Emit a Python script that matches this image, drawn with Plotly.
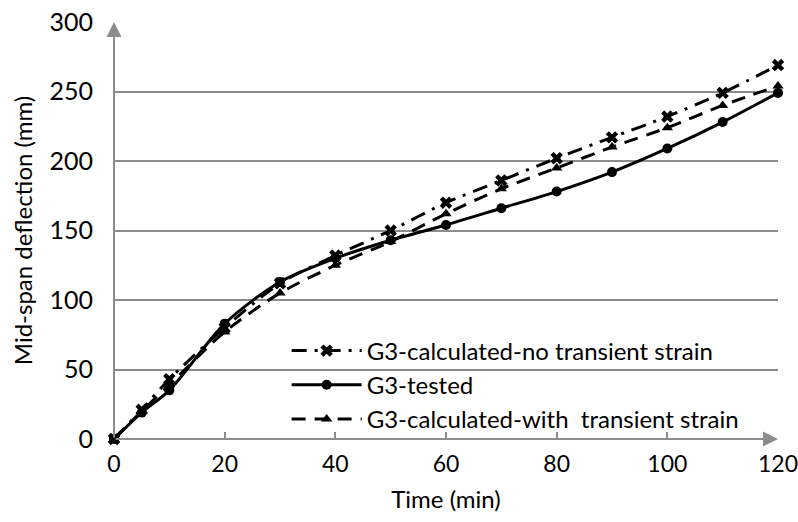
import plotly.graph_objects as go

time_min = [0, 5, 10, 20, 30, 40, 50, 60, 70, 80, 90, 100, 110, 120]
no_transient = [0, 21, 43, 80, 112, 132, 150, 170, 186, 202, 217, 232, 249, 269]
tested = [0, 19, 35, 83, 113, 130, 143, 154, 166, 178, 192, 209, 228, 249]
with_transient = [0, 20, 39, 77, 105, 125, 142, 162, 180, 195, 210, 224, 240, 254]

names = ["G3-calculated-no transient strain", "G3-tested",
         "G3-calculated-with\u00a0 transient strain"]
x_ticks = [0, 20, 40, 60, 80, 100, 120]
y_ticks = [0, 50, 100, 150, 200, 250, 300]

FONT = "Lato, 'Open Sans', sans-serif"
GRID = "#8c8c8c"

fig = go.Figure()
fig.add_trace(go.Scatter(
    x=time_min, y=no_transient, name=names[0], mode="lines+markers",
    line=dict(color="black", width=3, dash="15px,8px,3px,8px", shape="spline", smoothing=0.8),
    marker=dict(symbol="x", size=11, color="black"), cliponaxis=False))
fig.add_trace(go.Scatter(
    x=time_min, y=tested, name=names[1], mode="lines+markers",
    line=dict(color="black", width=3, shape="spline", smoothing=0.8),
    marker=dict(symbol="circle", size=10, color="black"), cliponaxis=False))
fig.add_trace(go.Scatter(
    x=time_min, y=with_transient, name=names[2], mode="lines+markers",
    line=dict(color="black", width=3, dash="14px,9px", shape="spline", smoothing=0.8),
    marker=dict(symbol="triangle-up", size=10, color="black"), cliponaxis=False))

# axis arrows
fig.add_annotation(x=0, y=300, ax=0, ay=0, xref="x", yref="y", axref="x", ayref="y",
                   showarrow=True, arrowhead=2, arrowsize=1.5, arrowwidth=2,
                   arrowcolor=GRID, text="")
fig.add_annotation(x=120, y=0, ax=0, ay=0, xref="x", yref="y", axref="x", ayref="y",
                   showarrow=True, arrowhead=2, arrowsize=1.5, arrowwidth=2,
                   arrowcolor=GRID, text="")

fig.update_layout(
    width=798, height=522,
    margin=dict(l=114, r=20, t=22, b=83, autoexpand=False),
    paper_bgcolor="white", plot_bgcolor="white",
    font=dict(family=FONT, size=25, color="black"),
    showlegend=True,
    legend=dict(x=0.26, y=0.265, xanchor="left", yanchor="top",
                bgcolor="rgba(0,0,0,0)", font=dict(size=24, family=FONT),
                itemwidth=70, tracegroupgap=0),
    xaxis=dict(range=[0, 120], tickvals=x_ticks, showgrid=False, zeroline=False,
               showline=False, ticks="inside", ticklen=7, tickcolor=GRID, tickwidth=2,
               title=dict(text="Time (min)", font=dict(size=24), standoff=15),
               tickfont=dict(size=23), ticklabelstandoff=9, automargin=False,
               ticklabeloverflow="allow"),
    yaxis=dict(range=[0, 300], tickvals=y_ticks, showgrid=True, gridcolor=GRID,
               gridwidth=1.5, zeroline=False, showline=False, ticks="",
               title=dict(text="Mid-span deflection (mm)", font=dict(size=24), standoff=10),
               tickfont=dict(size=25), ticklabelstandoff=20, automargin=False,
               ticklabeloverflow="allow"),
)

fig.write_html("out.html")
